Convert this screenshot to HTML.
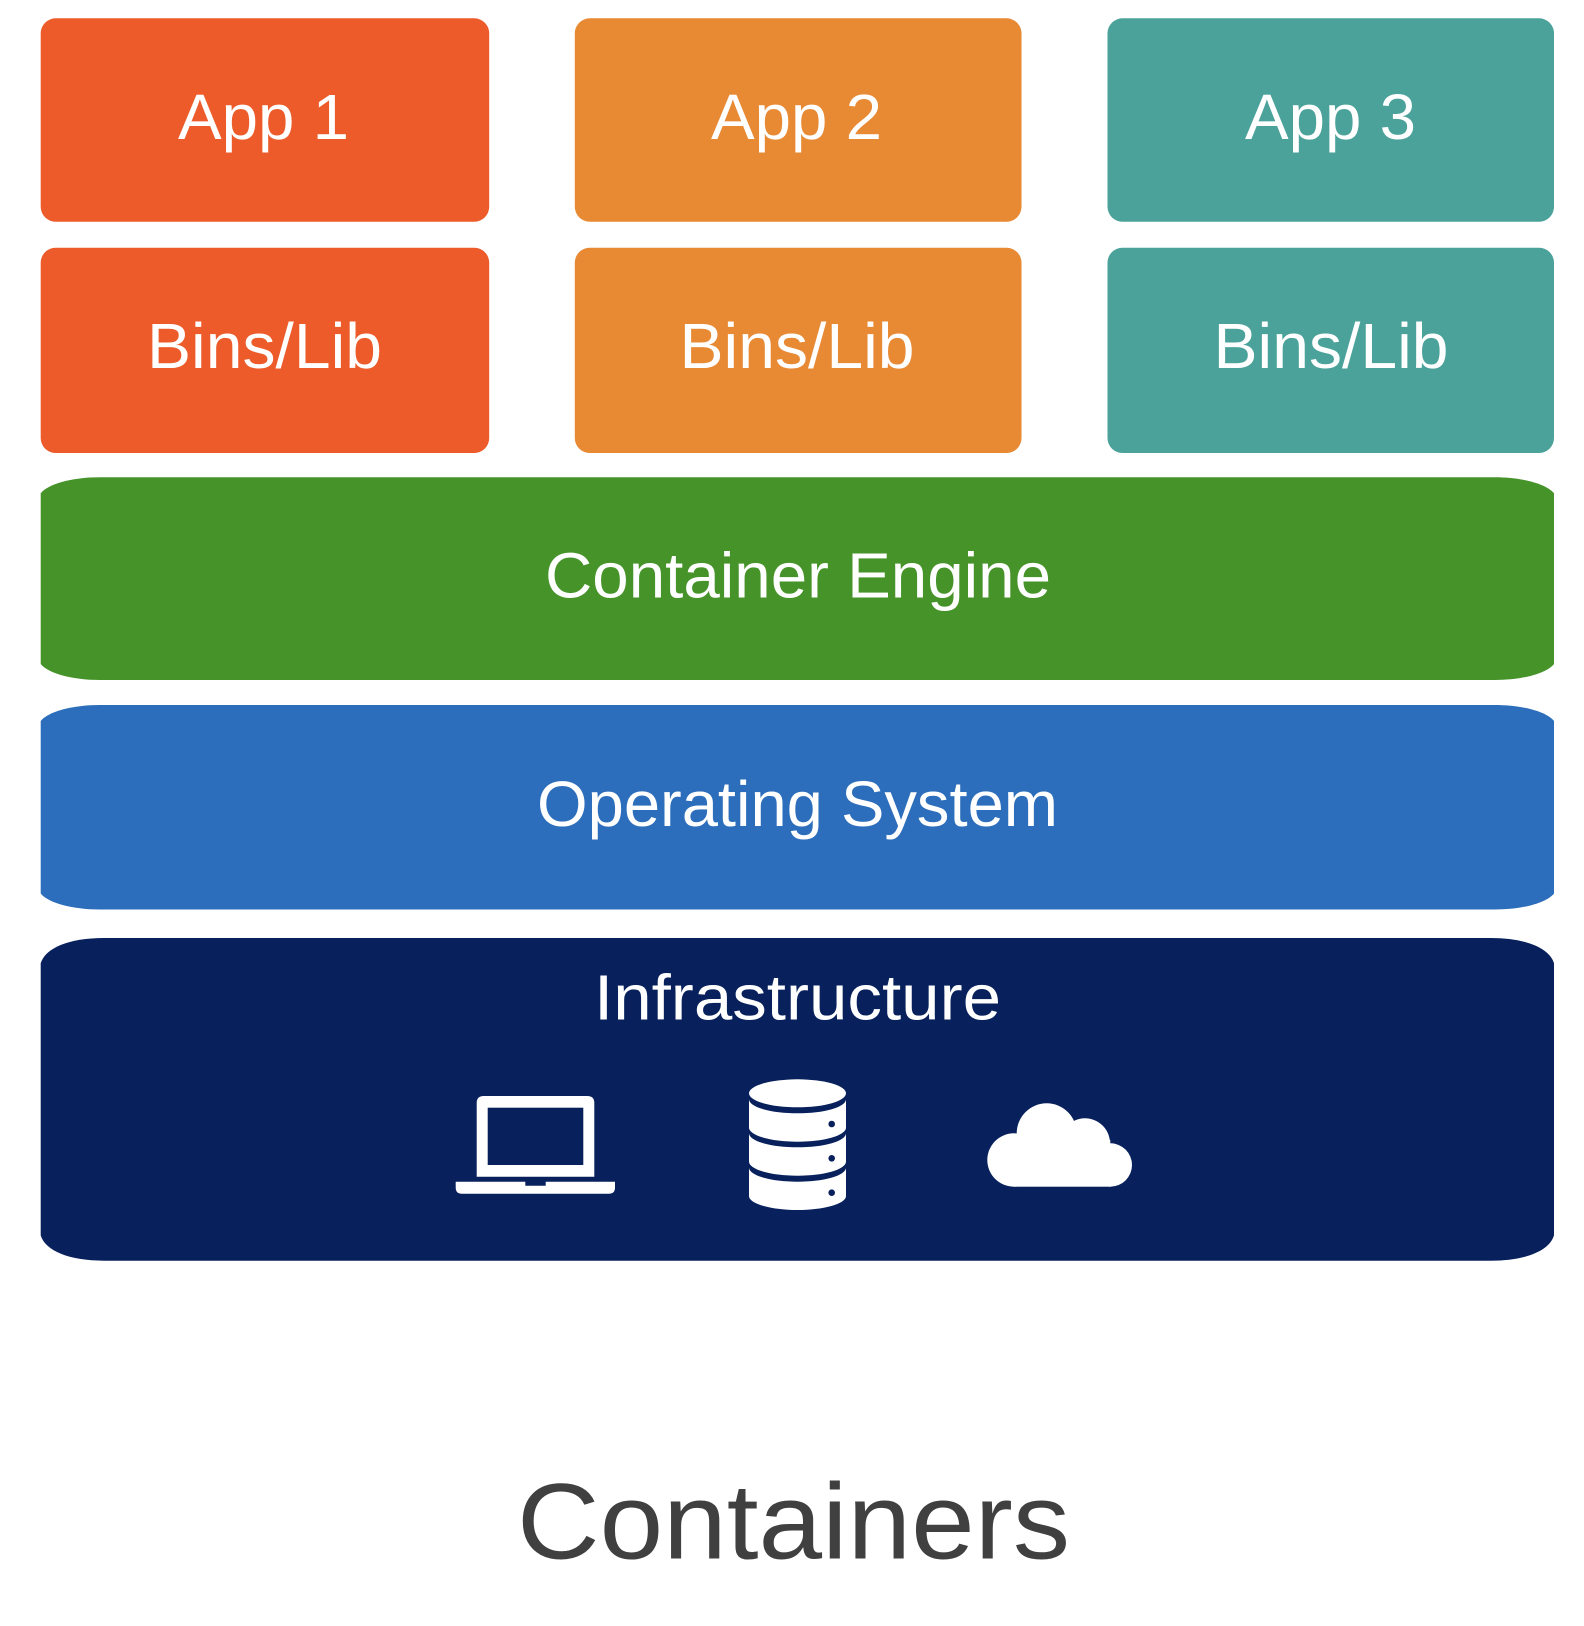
<!DOCTYPE html>
<html>
<head>
<meta charset="utf-8">
<style>
html,body{margin:0;padding:0;background:#fff;width:1584px;height:1626px;overflow:hidden}
svg{display:block}
text{font-family:"Liberation Sans",sans-serif;fill:#fff;font-size:64px}
</style>
</head>
<body>
<svg width="1584" height="1626" viewBox="0 0 1584 1626" xmlns="http://www.w3.org/2000/svg">
<rect width="1584" height="1626" fill="#fff"/>

<rect x="40.7" y="18.3" width="448.5" height="203.5" rx="15" fill="#EC5B29"/>
<rect x="574.8" y="18.3" width="446.7" height="203.5" rx="15" fill="#E88933"/>
<rect x="1107.5" y="18.3" width="446.5" height="203.5" rx="15" fill="#4AA29A"/>
<rect x="40.7" y="247.7" width="448.5" height="205.3" rx="15" fill="#EC5B29"/>
<rect x="574.8" y="247.7" width="446.7" height="205.3" rx="15" fill="#E88933"/>
<rect x="1107.5" y="247.7" width="446.5" height="205.3" rx="15" fill="#4AA29A"/>

<path d="M100 477.3H1494.7C1522.7 477.3 1546.7 484 1554 493.3V664C1546.7 673.3 1522.7 680 1494.7 680H100C72 680 48 673.3 40.7 664V493.3C48 484 72 477.3 100 477.3Z" fill="#46932A"/>
<path d="M100 705H1494.7C1522.7 705 1546.7 711.7 1554 721V893.5C1546.7 902.8 1522.7 909.5 1494.7 909.5H100C72 909.5 48 902.8 40.7 893.5V721C48 711.7 72 705 100 705Z" fill="#2C6EBB"/>
<path d="M104 938H1490.7C1525.7 938 1549.5 948 1554 963.3V1235.4C1549.5 1250.7 1525.7 1260.7 1490.7 1260.7H104C69 1260.7 45.2 1250.7 40.7 1235.4V963.3C45.2 948 69 938 104 938Z" fill="#08215C"/>

<text x="178" y="139" textLength="171" lengthAdjust="spacingAndGlyphs">App 1</text>
<text x="711" y="139" textLength="171" lengthAdjust="spacingAndGlyphs">App 2</text>
<text x="1245" y="139" textLength="171" lengthAdjust="spacingAndGlyphs">App 3</text>
<text x="147" y="368" textLength="235" lengthAdjust="spacingAndGlyphs">Bins/Lib</text>
<text x="679.5" y="368" textLength="235" lengthAdjust="spacingAndGlyphs">Bins/Lib</text>
<text x="1213.5" y="368" textLength="235" lengthAdjust="spacingAndGlyphs">Bins/Lib</text>
<text x="545" y="597.5" textLength="506" lengthAdjust="spacingAndGlyphs">Container Engine</text>
<text x="537" y="826" textLength="521" lengthAdjust="spacingAndGlyphs">Operating System</text>
<text x="594" y="1019.5" textLength="407" lengthAdjust="spacingAndGlyphs">Infrastructure</text>
<text x="517" y="1558.5" textLength="553" lengthAdjust="spacingAndGlyphs" style="font-size:108px;fill:#404040">Containers</text>

<!-- laptop -->
<path d="M483.7 1096H587.3Q594.3 1096 594.3 1103V1176.7H476.7V1103Q476.7 1096 483.7 1096Z" fill="#fff"/>
<rect x="487.7" y="1107.7" width="95.6" height="57.3" fill="#08215C"/>
<path d="M455.7 1181.7H525.3V1185.7H545.7V1181.7H615V1187.5Q615 1193.7 609 1193.7H461.7Q455.7 1193.7 455.7 1187.5Z" fill="#fff"/>

<!-- database -->
<path d="M749 1093.3A48.5 14 0 0 1 846 1093.3V1196A48.5 14 0 0 1 749 1196Z" fill="#fff"/>
<g fill="#08215C">
<path d="M749 1093.3A48.5 14 0 0 0 846 1093.3V1099.3A48.5 14 0 0 1 749 1099.3Z"/>
<path d="M749 1127.7A48.5 14 0 0 0 846 1127.7V1133.3A48.5 14 0 0 1 749 1133.3Z"/>
<path d="M749 1161.7A48.5 14 0 0 0 846 1161.7V1167.7A48.5 14 0 0 1 749 1167.7Z"/>
<circle cx="831.7" cy="1124" r="3.3"/>
<circle cx="831.7" cy="1158.3" r="3.3"/>
<circle cx="831.7" cy="1192.7" r="3.3"/>
</g>

<!-- cloud -->
<g fill="#fff">
<circle cx="1046.7" cy="1133.3" r="30"/>
<circle cx="1085" cy="1143.3" r="25"/>
<circle cx="1110.3" cy="1165" r="21.7"/>
<circle cx="1014" cy="1160" r="26.7"/>
<rect x="1014" y="1140" width="96.3" height="46.7"/>
</g>
</svg>
</body>
</html>
